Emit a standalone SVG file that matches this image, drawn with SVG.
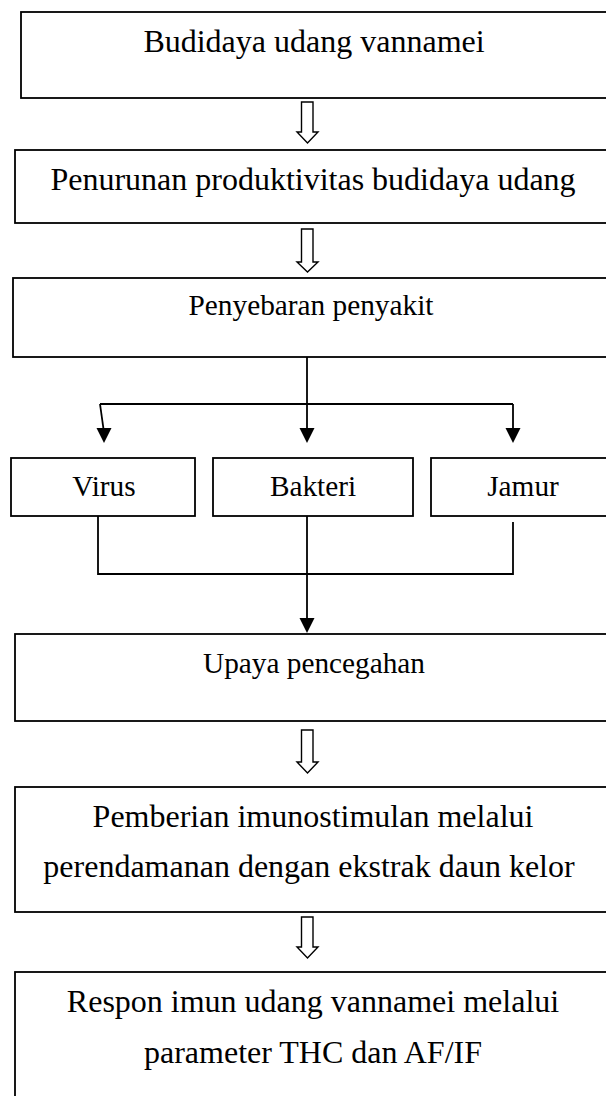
<svg xmlns="http://www.w3.org/2000/svg" width="606" height="1096" viewBox="0 0 606 1096">
<style>
.box{fill:#fff;stroke:#000;stroke-width:1.8}
.t{font-family:"Liberation Serif","Times New Roman",serif;font-size:32px;fill:#000;text-anchor:middle}
.s{font-size:29.3px}
.ln{fill:none;stroke:#000;stroke-width:1.8}
.ha{fill:#fff;stroke:#000;stroke-width:1.4;stroke-linejoin:miter}
.ah{fill:#000;stroke:none}
</style>
<rect width="606" height="1096" fill="#fff"/>
<g id="n1"><rect class="box" x="21" y="12" width="592" height="86"/><text class="t" x="314" y="52">Budidaya udang vannamei</text></g>
<g id="n2"><rect class="box" x="15" y="150" width="598" height="73"/><text class="t" x="313" y="190">Penurunan produktivitas budidaya udang</text></g>
<g id="n3"><rect class="box" x="13" y="278" width="600" height="79"/><text class="t s" x="311" y="315">Penyebaran penyakit</text></g>
<g id="n4"><rect class="box" x="11" y="458" width="184" height="58"/><text class="t s" x="104" y="496">Virus</text></g>
<g id="n5"><rect class="box" x="213" y="458" width="200" height="58"/><text class="t s" x="313" y="496">Bakteri</text></g>
<g id="n6"><rect class="box" x="431" y="458" width="184" height="58"/><text class="t s" x="523" y="496">Jamur</text></g>
<g id="n7"><rect class="box" x="15" y="634" width="598" height="87"/><text class="t s" x="314" y="673">Upaya pencegahan</text></g>
<g id="n8"><rect class="box" x="15" y="787" width="598" height="125"/><text class="t" x="313" y="827">Pemberian imunostimulan melalui</text><text class="t" x="309" y="877">perendamanan dengan ekstrak daun kelor</text></g>
<g id="n9"><rect class="box" x="15" y="972" width="598" height="140"/><text class="t" x="313" y="1012">Respon imun udang vannamei melalui</text><text class="t" x="313" y="1063">parameter THC dan AF/IF</text></g>
<g id="connectors">
<path class="ha" d="M301.5,102 H313 V132 H318 L307.5,143 L297,132 H301.5 Z"/>
<path class="ha" d="M301.5,229 H313 V262 H318 L307.5,272 L297,262 H301.5 Z"/>
<path class="ha" d="M301.5,730 H313 V762 H318 L307.5,773 L297,762 H301.5 Z"/>
<path class="ha" d="M301.5,917 H313 V947 H318 L307.5,958 L297,947 H301.5 Z"/>
<path class="ln" d="M307,357 V429"/>
<path class="ln" d="M100,404 H513"/>
<path class="ln" d="M100,404 L103.5,429"/>
<path class="ln" d="M513,404 V429"/>
<path class="ah" d="M96.5,428 H111.5 L104,443 Z"/>
<path class="ah" d="M299.5,428 H314.5 L307,443 Z"/>
<path class="ah" d="M505.5,428 H520.5 L513,443 Z"/>
<path class="ln" d="M98,516 V574 H513 V522"/>
<path class="ln" d="M307,516 V619"/>
<path class="ah" d="M299.5,618 H314.5 L307,633 Z"/>
</g>
</svg>
